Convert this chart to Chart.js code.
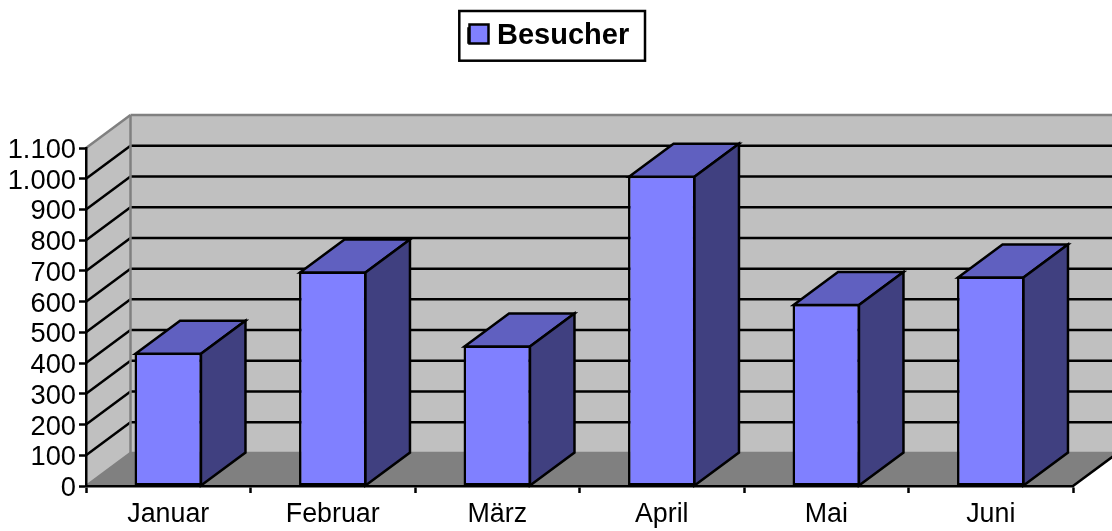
<!DOCTYPE html>
<html><head><meta charset="utf-8">
<style>html,body{margin:0;padding:0;background:#fff}canvas{display:block}</style>
<script src="https://cdn.jsdelivr.net/npm/chart.js@4/dist/chart.umd.min.js"></script>
</head><body>
<canvas id="c" width="1112" height="531" style="width:1112px;height:531px"></canvas>
<script>
const categories = ['Januar','Februar','März','April','Mai','Juni'];
const seriesName = 'Besucher';
const besucher = [434, 698, 457, 1010, 592, 682];
const yMax = 1100;
const yStep = 100;

const DX = 44.5, DY = -33;
const LW = 2.5;
const FONT = '"Liberation Sans", Arial, sans-serif';
const FRONT = '#8080ff', SIDE = '#404080', TOP = '#6060c0';

function poly(ctx, pts, fill, stroke, lw){
  ctx.beginPath();
  pts.forEach((p,i)=> i ? ctx.lineTo(p[0],p[1]) : ctx.moveTo(p[0],p[1]));
  ctx.closePath();
  if(fill){ctx.fillStyle=fill;ctx.fill();}
  if(stroke){ctx.strokeStyle=stroke;ctx.lineWidth=lw||LW;ctx.lineJoin='miter';ctx.stroke();}
}
function line(ctx,x1,y1,x2,y2,c,lw){
  ctx.beginPath();ctx.moveTo(x1,y1);ctx.lineTo(x2,y2);ctx.strokeStyle=c;ctx.lineWidth=lw||LW;ctx.stroke();
}

const walls3d = {
  id:'walls3d',
  afterLayout(chart){
    const l = chart.legend;
    l.left = 457.5; l.right = 646; l.top = 10; l.bottom = 61;
  },
  beforeDraw(chart){
    const {ctx,chartArea:a,scales:{y}} = chart;
    y.getLabelItems(a).forEach(it=>{
      if(!it._nudged){it.options.translation[1]+=2.5;it._nudged=true;}
    });
    const L=a.left,R=a.right,T=y.getPixelForValue(yMax),B=y.getPixelForValue(0);
    const W=chart.width+60;
    ctx.save();
    poly(ctx,[[L+DX,T+DY],[W,T+DY],[W,B+DY],[L+DX,B+DY]],'#c0c0c0');
    poly(ctx,[[L,T],[L+DX,T+DY],[L+DX,B+DY],[L,B]],'#c0c0c0');
    poly(ctx,[[L,B],[L+DX,B+DY],[R+DX,B+DY],[R,B]],'#808080');
    y.ticks.forEach(t=>{
      const p=y.getPixelForValue(t.value);
      const c=(t.value===0||t.value===yMax)?'#808080':'#000';
      line(ctx,L,p,L+DX,p+DY,c);
      line(ctx,L+DX,p+DY,W,p+DY,c);
    });
    line(ctx,L+DX,T+DY,L+DX,B+DY,'#808080');
    line(ctx,R,B,R+DX,B+DY,'#000');
    ctx.restore();
  },
  afterDatasetsDraw(chart){
    const {ctx} = chart;
    ctx.save();
    chart.getDatasetMeta(0).data.forEach(b=>{
      const l=b.x-b.width/2+1,r=b.x+b.width/2-1,t=b.y+1,base=b.base;
      poly(ctx,[[l,t],[l+DX,t+DY],[r+DX,t+DY],[r,t]],TOP,'#000');
      poly(ctx,[[r,t],[r+DX,t+DY],[r+DX,base+DY],[r,base]],SIDE,'#000');
    });
    ctx.restore();
  },
  afterDraw(chart){
    const {ctx} = chart;
    ctx.save();
    ctx.lineWidth=LW;ctx.strokeStyle='#000';
    ctx.strokeRect(459.3,11,185.7,49.7);
    ctx.fillStyle=FRONT;
    ctx.fillRect(469.5,24.5,19,19);
    ctx.strokeRect(469.5,24.5,19,19);
    ctx.restore();
  }
};

new Chart(document.getElementById('c'),{
  type:'bar',
  data:{labels:categories,datasets:[{
    label:seriesName,data:besucher,
    backgroundColor:FRONT,borderColor:'#000',borderWidth:LW,borderSkipped:false,
    barPercentage:0.41,categoryPercentage:1,clip:false
  }]},
  options:{
    responsive:false,animation:false,
    layout:{padding:{top:98,right:39,left:0,bottom:0}},
    plugins:{
      tooltip:{enabled:false},
      legend:{display:true,position:'top',align:'start',
        labels:{boxWidth:14,boxHeight:14,padding:11,color:'#000',
          font:{family:FONT,size:29,weight:'bold'}}}
    },
    scales:{
      x:{
        afterFit(s){s.height=45;},
        grid:{display:true,drawOnChartArea:false,drawTicks:true,tickLength:7,tickColor:'#000',tickWidth:LW,offset:true},
        border:{display:true,color:'#000',width:LW},
        ticks:{color:'#000',padding:6,maxRotation:0,font:{family:FONT,size:26.8}}
      },
      y:{
        min:0,max:yMax,
        afterFit(s){s.width=86;},
        grid:{display:true,drawOnChartArea:false,drawTicks:true,tickLength:7,tickColor:'#000',tickWidth:LW},
        border:{display:true,color:'#000',width:LW},
        ticks:{stepSize:yStep,color:'#000',padding:3,autoSkip:false,
          font:{family:FONT,size:27.3},
          callback:v=>String(v).replace(/\B(?=(\d{3})+$)/g,'.')}
      }
    }
  },
  plugins:[walls3d]
});
</script>
</body></html>
